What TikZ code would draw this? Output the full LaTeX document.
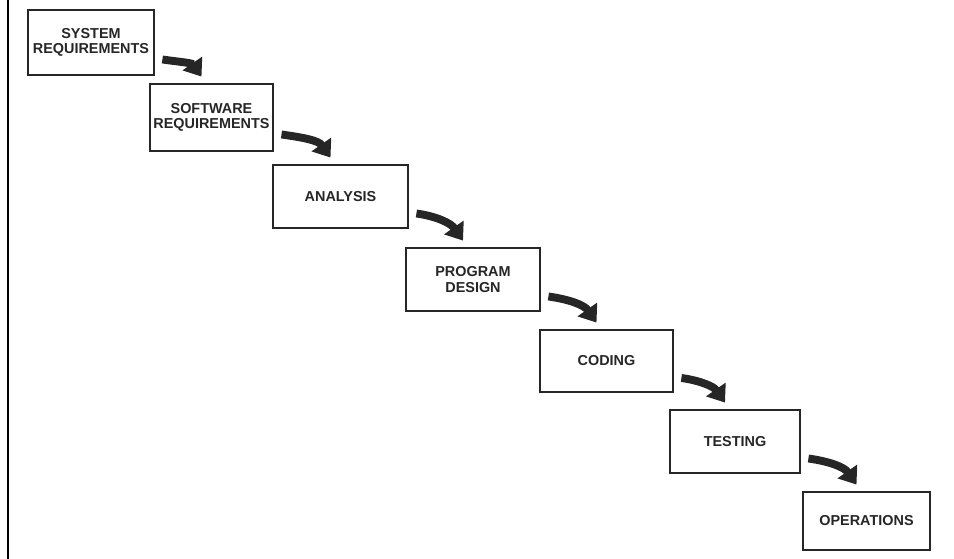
\documentclass[tikz,border=0pt]{standalone}
\usepackage{fontspec}
\setmainfont{Liberation Sans}
\usetikzlibrary{arrows.meta}

\begin{document}
\begin{tikzpicture}[
  phase/.style={draw=black!85, line width=1.6pt, fill=white, align=center,
    font=\bfseries\fontsize{8.2}{8.6}\selectfont, text=black!85, inner sep=2pt},
  flow/.style={black!85, line width=4.5pt,
    -{Triangle[length=0.32cm,width=0.46cm]}}
]
  \useasboundingbox (0,0) rectangle (19.08,11.18);
  \draw[black, line width=1.7pt] (0.16,0) -- (0.16,11.18);
  \node[phase, minimum width=2.52cm, minimum height=1.30cm] (sysreq) at (1.82,10.33) {SYSTEM\\REQUIREMENTS};
  \node[phase, minimum width=2.46cm, minimum height=1.34cm] (swreq) at (4.23,8.83) {SOFTWARE\\REQUIREMENTS};
  \node[phase, minimum width=2.70cm, minimum height=1.26cm] (analysis) at (6.81,7.25) {ANALYSIS};
  \node[phase, minimum width=2.68cm, minimum height=1.26cm] (design) at (9.46,5.59) {PROGRAM\\DESIGN};
  \node[phase, minimum width=2.66cm, minimum height=1.24cm] (coding) at (12.13,3.96) {CODING};
  \node[phase, minimum width=2.60cm, minimum height=1.26cm] (testing) at (14.70,2.35) {TESTING};
  \node[phase, minimum width=2.54cm, minimum height=1.16cm] (ops) at (17.33,0.76) {OPERATIONS};
  \foreach \A/\B in {sysreq/swreq, swreq/analysis, analysis/design, design/coding, coding/testing, testing/ops} {
    \draw[flow] ([shift={(0.14,-0.34)}]\A.east) to[out=-8,in=125] ([shift={(-0.2,0.12)}]\B.north);
  }
\end{tikzpicture}
\end{document}
